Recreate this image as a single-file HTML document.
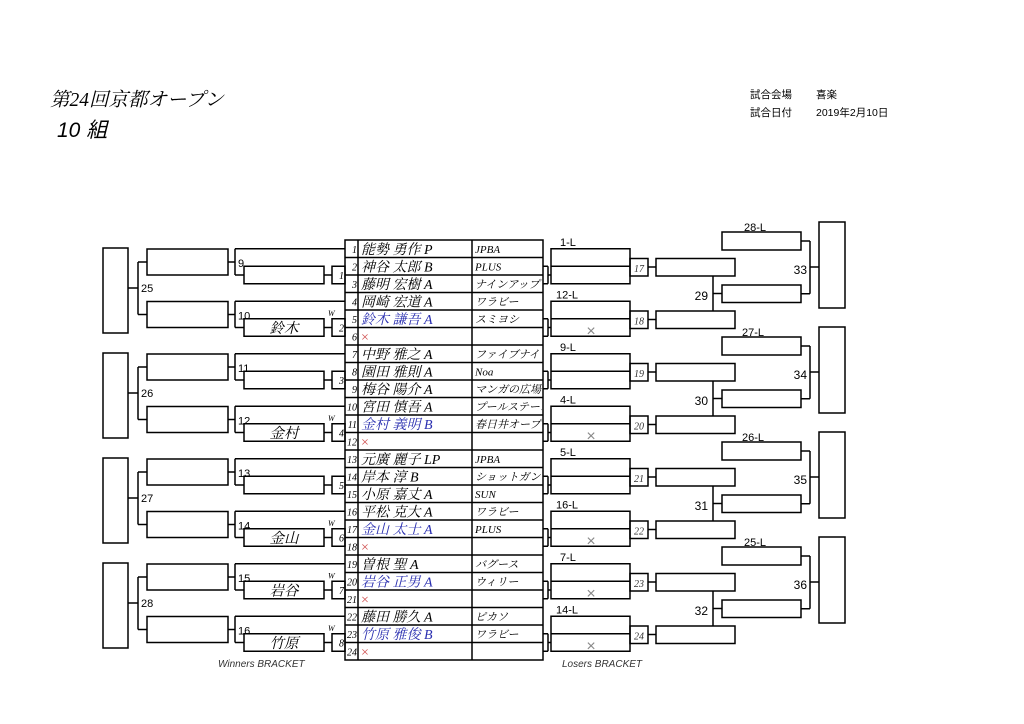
<!DOCTYPE html>
<html><head><meta charset="utf-8"><style>
html,body{margin:0;padding:0;background:#fff;}
svg{display:block;}
.s{font-family:"Liberation Sans","Noto Sans CJK JP",sans-serif;}
.r{font-family:"Liberation Serif","Noto Serif CJK SC",serif;font-style:italic;}
</style></head><body>
<svg width="1024" height="724" viewBox="0 0 1024 724" xmlns="http://www.w3.org/2000/svg">
<defs>
<clipPath id="cc"><rect x="472" y="240" width="70" height="420"/></clipPath>
<g id="wg" fill="none" stroke="#000" stroke-width="1.5">
<line x1="235" y1="8.75" x2="345" y2="8.75"/><line x1="235" y1="8.75" x2="235" y2="35"/>
<line x1="235" y1="35" x2="244" y2="35"/><rect x="244" y="26.25" width="80" height="17.5"/>
<line x1="324" y1="35" x2="332" y2="35"/><rect x="332" y="26.25" width="13" height="17.5"/>
<line x1="228" y1="22" x2="235" y2="22"/><rect x="147" y="9" width="81" height="26"/>
</g>
<g id="wp" fill="none" stroke="#000" stroke-width="1.5">
<rect x="103" y="8" width="25" height="85"/>
<line x1="138" y1="22" x2="138" y2="74.5"/><line x1="128" y1="48" x2="138" y2="48"/>
<line x1="138" y1="22" x2="147" y2="22"/><line x1="138" y1="74.5" x2="147" y2="74.5"/>
</g>
<g id="lg" fill="none" stroke="#000" stroke-width="1.5">
<line x1="543" y1="26.25" x2="548" y2="26.25"/><line x1="543" y1="43.75" x2="548" y2="43.75"/>
<line x1="548" y1="26.25" x2="548" y2="43.75"/><line x1="548" y1="35" x2="551" y2="35"/>
<rect x="551" y="8.75" width="79" height="35"/><line x1="551" y1="26.25" x2="630" y2="26.25"/>
<rect x="630" y="18.5" width="18" height="17.5"/><line x1="648" y1="27" x2="656" y2="27"/>
<rect x="656" y="18.5" width="79" height="17.5"/>
</g>
<g id="lp" fill="none" stroke="#000" stroke-width="1.5">
<line x1="713" y1="36" x2="713" y2="71"/><line x1="713" y1="53.5" x2="722" y2="53.5"/>
<rect x="722" y="45" width="79" height="17.5"/><rect x="722" y="-8" width="79" height="18"/>
<line x1="801" y1="1" x2="810" y2="1"/><line x1="801" y1="53.75" x2="810" y2="53.75"/>
<line x1="810" y1="1" x2="810" y2="53.75"/><line x1="810" y1="27" x2="819" y2="27"/>
<rect x="819" y="-18" width="26" height="86"/>
</g>
</defs>

<text x="50" y="106" class="r" font-size="19.5" font-style="italic">第24回京都オープン</text>
<text x="57" y="137" class="s" font-size="21" font-style="italic">10 組</text>
<text x="750" y="98" class="s" font-size="10.5">試合会場</text><text x="816" y="98" class="s" font-size="10.5">喜楽</text>
<text x="750" y="116" class="s" font-size="10.5">試合日付</text><text x="816" y="116" class="s" font-size="10.5">2019年2月10日</text>

<use href="#wg" y="240"/><use href="#wg" y="292.5"/><use href="#wg" y="345"/><use href="#wg" y="397.5"/>
<use href="#wg" y="450"/><use href="#wg" y="502.5"/><use href="#wg" y="555"/><use href="#wg" y="607.5"/>
<use href="#wp" y="240"/><use href="#wp" y="345"/><use href="#wp" y="450"/><use href="#wp" y="555"/>
<g class="s" font-size="11">
<text x="238" y="267">9</text><text x="238" y="319.5">10</text><text x="238" y="372">11</text><text x="238" y="424.5">12</text>
<text x="238" y="477">13</text><text x="238" y="529.5">14</text><text x="238" y="582">15</text><text x="238" y="634.5">16</text>
<text x="141" y="292">25</text><text x="141" y="397">26</text><text x="141" y="502">27</text><text x="141" y="607">28</text>
</g>
<g class="r" font-size="10" text-anchor="end">
<text x="344" y="279">1</text><text x="344" y="331.5">2</text><text x="344" y="384">3</text><text x="344" y="436.5">4</text>
<text x="344" y="489">5</text><text x="344" y="541.5">6</text><text x="344" y="594">7</text><text x="344" y="646.5">8</text>
</g>
<g class="r" font-size="8"><text x="328" y="316">W</text><text x="328" y="421">W</text><text x="328" y="526">W</text><text x="328" y="578.5">W</text><text x="328" y="631">W</text></g>
<g class="r" font-size="14.5" text-anchor="middle">
<text x="284" y="333">鈴木</text><text x="284" y="438">金村</text><text x="284" y="543">金山</text><text x="284" y="595.5">岩谷</text><text x="284" y="648">竹原</text>
</g>

<g fill="none" stroke="#000" stroke-width="1.5">
<rect x="345" y="240" width="198" height="420"/>
<line x1="358" y1="240" x2="358" y2="660"/><line x1="472" y1="240" x2="472" y2="660"/>
<path d="M345 257.5H543M345 275H543M345 292.5H543M345 310H543M345 327.5H543M345 345H543M345 362.5H543M345 380H543M345 397.5H543M345 415H543M345 432.5H543M345 450H543M345 467.5H543M345 485H543M345 502.5H543M345 520H543M345 537.5H543M345 555H543M345 572.5H543M345 590H543M345 607.5H543M345 625H543M345 642.5H543"/>
</g>
<g class="r" font-size="10" text-anchor="end">
<text x="357" y="253">1</text><text x="357" y="270.5">2</text><text x="357" y="288">3</text><text x="357" y="305.5">4</text><text x="357" y="323">5</text><text x="357" y="340.5">6</text>
<text x="357" y="358">7</text><text x="357" y="375.5">8</text><text x="357" y="393">9</text><text x="357" y="410.5">10</text><text x="357" y="428">11</text><text x="357" y="445.5">12</text>
<text x="357" y="463">13</text><text x="357" y="480.5">14</text><text x="357" y="498">15</text><text x="357" y="515.5">16</text><text x="357" y="533">17</text><text x="357" y="550.5">18</text>
<text x="357" y="568">19</text><text x="357" y="585.5">20</text><text x="357" y="603">21</text><text x="357" y="620.5">22</text><text x="357" y="638">23</text><text x="357" y="655.5">24</text>
</g>
<g class="r" font-size="14">
<text x="361" y="254">能勢 勇作 P</text><text x="361" y="271.5">神谷 太郎 B</text><text x="361" y="289">藤明 宏樹 A</text><text x="361" y="306.5">岡崎 宏道 A</text>
<text x="361" y="324" fill="#2a2fb0">鈴木 謙吾 A</text><text x="361" y="341.5" fill="#d05050" font-style="normal">×</text>
<text x="361" y="359">中野 雅之 A</text><text x="361" y="376.5">園田 雅則 A</text><text x="361" y="394">梅谷 陽介 A</text><text x="361" y="411.5">宮田 慎吾 A</text>
<text x="361" y="429" fill="#2a2fb0">金村 義明 B</text><text x="361" y="446.5" fill="#d05050" font-style="normal">×</text>
<text x="361" y="464">元廣 麗子 LP</text><text x="361" y="481.5">岸本 淳 B</text><text x="361" y="499">小原 嘉丈 A</text><text x="361" y="516.5">平松 克大 A</text>
<text x="361" y="534" fill="#2a2fb0">金山 太士 A</text><text x="361" y="551.5" fill="#d05050" font-style="normal">×</text>
<text x="361" y="569">曽根 聖 A</text><text x="361" y="586.5" fill="#2a2fb0">岩谷 正男 A</text><text x="361" y="604" fill="#d05050" font-style="normal">×</text>
<text x="361" y="621.5">藤田 勝久 A</text><text x="361" y="639" fill="#2a2fb0">竹原 雅俊 B</text><text x="361" y="656.5" fill="#d05050" font-style="normal">×</text>
</g>
<g class="r" font-size="11" clip-path="url(#cc)">
<text x="475" y="253">JPBA</text><text x="475" y="270.5">PLUS</text><text x="475" y="288">ナインアップ</text><text x="475" y="305.5">ワラビー</text><text x="475" y="323">スミヨシ</text>
<text x="475" y="358">ファイブナイン</text><text x="475" y="375.5">Noa</text><text x="475" y="393">マンガの広場</text><text x="475" y="410.5">プールステージ</text><text x="475" y="428">春日井オープン</text>
<text x="475" y="463">JPBA</text><text x="475" y="480.5">ショットガン</text><text x="475" y="498">SUN</text><text x="475" y="515.5">ワラビー</text><text x="475" y="533">PLUS</text>
<text x="475" y="568">バグース</text><text x="475" y="585.5">ウィリー</text><text x="475" y="620.5">ピカソ</text><text x="475" y="638">ワラビー</text>
</g>

<use href="#lg" y="240"/><use href="#lg" y="292.5"/><use href="#lg" y="345"/><use href="#lg" y="397.5"/>
<use href="#lg" y="450"/><use href="#lg" y="502.5"/><use href="#lg" y="555"/><use href="#lg" y="607.5"/>
<use href="#lp" y="240"/><use href="#lp" y="345"/><use href="#lp" y="450"/><use href="#lp" y="555"/>
<g class="s" font-size="11">
<text x="560" y="246">1-L</text><text x="556" y="298.5">12-L</text><text x="560" y="351">9-L</text><text x="560" y="403.5">4-L</text>
<text x="560" y="456">5-L</text><text x="556" y="508.5">16-L</text><text x="560" y="561">7-L</text><text x="556" y="613.5">14-L</text>
<text x="744" y="231">28-L</text><text x="742" y="336">27-L</text><text x="742" y="441">26-L</text><text x="744" y="546">25-L</text>
</g>
<g class="s" font-size="12" text-anchor="end">
<text x="708" y="300">29</text><text x="708" y="405">30</text><text x="708" y="510">31</text><text x="708" y="615">32</text>
<text x="807" y="274">33</text><text x="807" y="379">34</text><text x="807" y="484">35</text><text x="807" y="589">36</text>
</g>
<g class="r" font-size="10" text-anchor="middle" fill="#333">
<text x="639" y="272">17</text><text x="639" y="324.5">18</text><text x="639" y="377">19</text><text x="639" y="429.5">20</text>
<text x="639" y="482">21</text><text x="639" y="534.5">22</text><text x="639" y="587">23</text><text x="639" y="639.5">24</text>
</g>
<g class="s" font-size="16" fill="#888" text-anchor="middle">
<text x="591" y="336">×</text><text x="591" y="441">×</text><text x="591" y="546">×</text><text x="591" y="598.5">×</text><text x="591" y="651">×</text>
</g>

<text x="218" y="667" class="s" font-size="10" font-style="italic" fill="#333">Winners BRACKET</text>
<text x="562" y="667" class="s" font-size="10" font-style="italic" fill="#333">Losers BRACKET</text>
</svg>
</body></html>
